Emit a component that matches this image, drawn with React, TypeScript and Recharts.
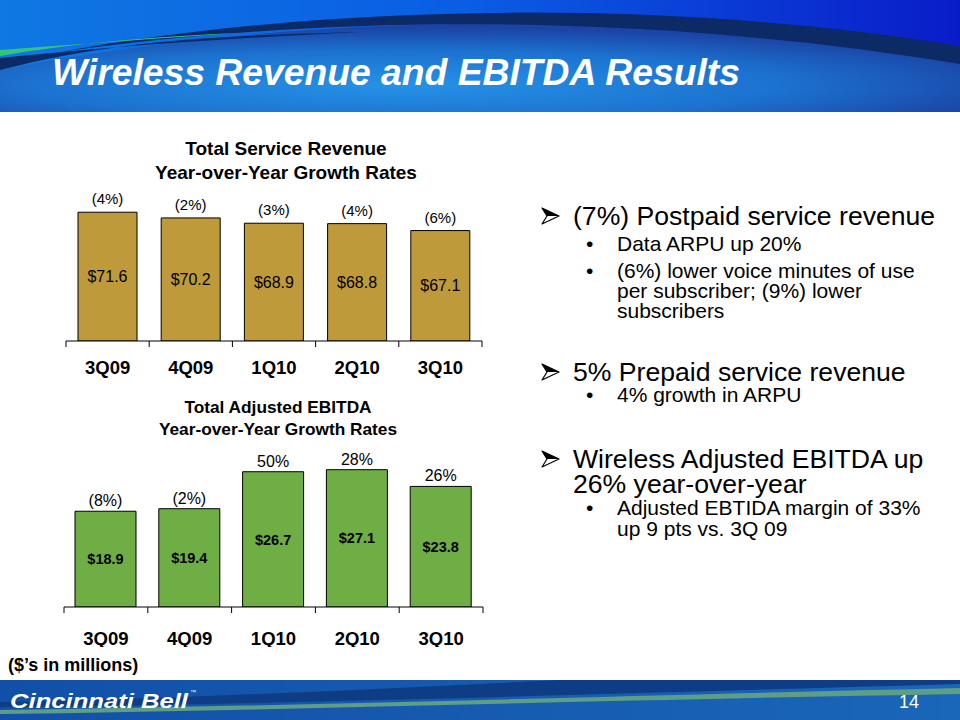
import { BarChart, Bar, XAxis, YAxis, LabelList } from 'recharts'

// values
const quarters = ['3Q09', '4Q09', '1Q10', '2Q10', '3Q10']
const serviceRevenue = [71.6, 70.2, 68.9, 68.8, 67.1]
const serviceRevenueGrowth = [-4, -2, -3, -4, -6]
const adjEbitda = [18.9, 19.4, 26.7, 27.1, 23.8]
const adjEbitdaGrowth = [-8, -2, 50, 28, 26]

const FONT = '"Liberation Sans", Arial, sans-serif'
const GOLD = '#BE9A3A'
const GREEN = '#6FAE45'

const revenueData = quarters.map((q, i) => ({ quarter: q, value: serviceRevenue[i], growth: serviceRevenueGrowth[i] }))
const ebitdaData = quarters.map((q, i) => ({ quarter: q, value: adjEbitda[i], growth: adjEbitdaGrowth[i] }))

const fmtMoney = (v: any) => '$' + Number(v).toFixed(1)
const fmtGrowth = (v: any) => (Number(v) < 0 ? '(' + -Number(v) + '%)' : v + '%')

const QuarterTick = (props: any) => {
    const { x, y, payload, index, band, labelDy } = props
    const half = payload && payload.offset ? payload.offset : band / 2
    return (
        <g>
            <line x1={x - half} y1={y} x2={x - half} y2={y + 6} stroke="#000" strokeWidth={1} />
            {index === quarters.length - 1 && (
                <line x1={x + half} y1={y} x2={x + half} y2={y + 6} stroke="#000" strokeWidth={1} />
            )}
            <text x={x} y={y + labelDy} textAnchor="middle" dominantBaseline="central"
                  fontFamily={FONT} fontWeight="bold" fontSize={18.5} fill="#000">
                {payload.value}
            </text>
        </g>
    )
}

type ChartProps = {
    data: any[]
    width: number
    height: number
    marginTop: number
    domain: number[]
    barSize: number
    fill: string
    valueFont: any
    growthFont: number
    growthOffset: number
    labelDy: number
}

const GrowthChart = (props: ChartProps) => {
    const band = (props.width - 40) / quarters.length
    return (
        <BarChart width={props.width} height={props.height} data={props.data}
                  margin={{ top: props.marginTop, right: 20, left: 20, bottom: 0 }}
                  style={{ fontFamily: FONT }}>
            <XAxis dataKey="quarter" interval={0} height={40} tickSize={0} tickMargin={0} tickLine={false}
                   axisLine={{ stroke: '#000', strokeWidth: 1 }}
                   tick={(p: any) => <QuarterTick {...p} band={band} labelDy={props.labelDy} />} />
            <YAxis hide domain={props.domain} allowDataOverflow />
            <Bar dataKey="value" fill={props.fill} stroke="#000" strokeWidth={1} barSize={props.barSize}
                 isAnimationActive={false}>
                <LabelList dataKey="value" position="center" formatter={fmtMoney}
                           style={{ fontFamily: FONT, fontSize: props.valueFont.size, fontWeight: props.valueFont.weight, fill: '#000' }} />
                <LabelList dataKey="growth" position="top" offset={props.growthOffset} formatter={fmtGrowth}
                           style={{ fontFamily: FONT, fontSize: props.growthFont, fill: '#000' }} />
            </Bar>
        </BarChart>
    )
}

const Header = () => (
    <svg width={960} height={112} style={{ position: 'absolute', left: 0, top: 0 }}>
        <defs>
            <linearGradient id="hdrTop" x1="0" y1="0" x2="1" y2="0">
                <stop offset="0" stopColor="#0F78E2" />
                <stop offset="0.5" stopColor="#0A5CE4" />
                <stop offset="1" stopColor="#0A1CC8" />
            </linearGradient>
            <radialGradient id="hdrLow" cx="0.42" cy="0.7" r="0.65">
                <stop offset="0" stopColor="#2592E6" />
                <stop offset="0.6" stopColor="#1C72D0" />
                <stop offset="1" stopColor="#1A45A6" />
            </radialGradient>
        </defs>
        <rect x={0} y={0} width={960} height={112} fill="url(#hdrTop)" />
        <path d="M0,70 C260,18 620,2 960,62 L960,112 L0,112 Z" fill="url(#hdrLow)" />
        <path d="M60,52 C300,8 640,-6 960,46 L960,64 C620,8 300,18 60,52 Z" fill="#0C2A66" />
        <path d="M0,58 C120,46 200,40 360,32 C200,36 110,42 0,70 Z" fill="#0C2A66" />
        <path d="M0,50 C80,44 160,38 240,33 C160,36 80,42 0,56 Z" fill="#34C47C" />
        <text x={52} y={85} textLength={688} lengthAdjust="spacingAndGlyphs" fill="#fff"
              fontFamily={FONT} fontWeight="bold" fontStyle="italic" fontSize={36}>
            Wireless Revenue and EBITDA Results
        </text>
    </svg>
)

const Footer = () => (
    <svg width={960} height={40} style={{ position: 'absolute', left: 0, top: 680 }}>
        <defs>
            <linearGradient id="ftr" x1="0" y1="0" x2="1" y2="0">
                <stop offset="0" stopColor="#1250A8" />
                <stop offset="1" stopColor="#1A66B8" />
            </linearGradient>
        </defs>
        <rect x={0} y={0} width={960} height={40} fill="url(#ftr)" />
        <path d="M0,27 C300,24 600,14 960,4 L960,0 L560,0 C400,8 200,18 0,22 Z" fill="#0E3D86" />
        <path d="M0,30 C300,26 600,16 960,8 L960,14 C600,20 300,30 0,34 Z" fill="#5E9E86" />
        <text x={10} y={28} textLength={178} lengthAdjust="spacingAndGlyphs" fill="#fff"
              fontFamily={FONT} fontWeight="bold" fontStyle="italic" fontSize={21}>
            Cincinnati Bell
        </text>
        <text x={190} y={14} fill="#fff" fontFamily={FONT} fontSize={6}>™</text>
        <text x={909} y={22} textAnchor="middle" dominantBaseline="central" fill="#fff"
              fontFamily={FONT} fontSize={18}>14</text>
    </svg>
)

const Arrow = ({ top }: { top: number }) => (
    <svg width={20} height={18} style={{ position: 'absolute', left: 541, top: top }}>
        <polygon points="1,1 18,9 1,17 6,9" fill="#fff" stroke="#000" strokeWidth={1.2} strokeLinejoin="round" />
        <polygon points="1,1 18,9 6,9" fill="#000" />
    </svg>
)

// one positioned div per text line, top given as line box top
const Line = ({ left, top, size, lh, text }: { left: number, top: number, size: number, lh: number, text: string }) => (
    <div style={{ position: 'absolute', left: left, top: top, height: lh, fontSize: size, lineHeight: lh + 'px', color: '#000', whiteSpace: 'nowrap' }}>
        {text}
    </div>
)

const MAIN = 26.6
const SUB = 21

export default function App() {
    return (
        <div style={{ position: 'absolute', left: 0, top: 0, width: 960, height: 720, background: '#fff', overflow: 'hidden', fontFamily: FONT }}>
            <Header />

            <div style={{ position: 'absolute', left: 86, top: 137, width: 400, textAlign: 'center', fontWeight: 'bold', fontSize: 19, lineHeight: '24px' }}>
                Total Service Revenue<br />Year-over-Year Growth Rates
            </div>
            <div style={{ position: 'absolute', left: 46, top: 170 }}>
                <GrowthChart data={revenueData} width={456} height={211} marginTop={8} domain={[40, 80]} barSize={59}
                             fill={GOLD} valueFont={{ size: 16, weight: 'normal' }} growthFont={15} growthOffset={8} labelDy={26} />
            </div>

            <div style={{ position: 'absolute', left: 78, top: 396, width: 400, textAlign: 'center', fontWeight: 'bold', fontSize: 17.3, lineHeight: '22px' }}>
                Total Adjusted EBITDA<br />Year-over-Year Growth Rates
            </div>
            <div style={{ position: 'absolute', left: 44, top: 445 }}>
                <GrowthChart data={ebitdaData} width={459} height={202} marginTop={10} domain={[0, 30]} barSize={61}
                             fill={GREEN} valueFont={{ size: 14.5, weight: 'bold' }} growthFont={16} growthOffset={5} labelDy={31} />
            </div>

            <div style={{ position: 'absolute', left: 8, top: 656, fontWeight: 'bold', fontSize: 18, lineHeight: '18px' }}>
                ($’s in millions)
            </div>

            <Arrow top={207} />
            <Line left={573} top={203} size={MAIN} lh={26} text="(7%) Postpaid service revenue" />
            <Line left={586} top={234} size={SUB} lh={20} text="•" />
            <Line left={617} top={234} size={SUB} lh={20} text="Data ARPU up 20%" />
            <Line left={586} top={261} size={SUB} lh={20} text="•" />
            <Line left={617} top={261} size={SUB} lh={20} text="(6%) lower voice minutes of use" />
            <Line left={617} top={281} size={SUB} lh={20} text="per subscriber; (9%) lower" />
            <Line left={617} top={301} size={SUB} lh={20} text="subscribers" />

            <Arrow top={363} />
            <Line left={573} top={359} size={MAIN} lh={26} text="5% Prepaid service revenue" />
            <Line left={586} top={385} size={SUB} lh={20} text="•" />
            <Line left={617} top={385} size={SUB} lh={20} text="4% growth in ARPU" />

            <Arrow top={450} />
            <Line left={573} top={446.5} size={MAIN} lh={25} text="Wireless Adjusted EBITDA up" />
            <Line left={573} top={471.5} size={MAIN} lh={25} text="26% year-over-year" />
            <Line left={586} top={497} size={SUB} lh={21} text="•" />
            <Line left={617} top={497} size={SUB} lh={21} text="Adjusted EBTIDA margin of 33%" />
            <Line left={617} top={518} size={SUB} lh={21} text="up 9 pts vs. 3Q 09" />

            <Footer />
        </div>
    )
}
